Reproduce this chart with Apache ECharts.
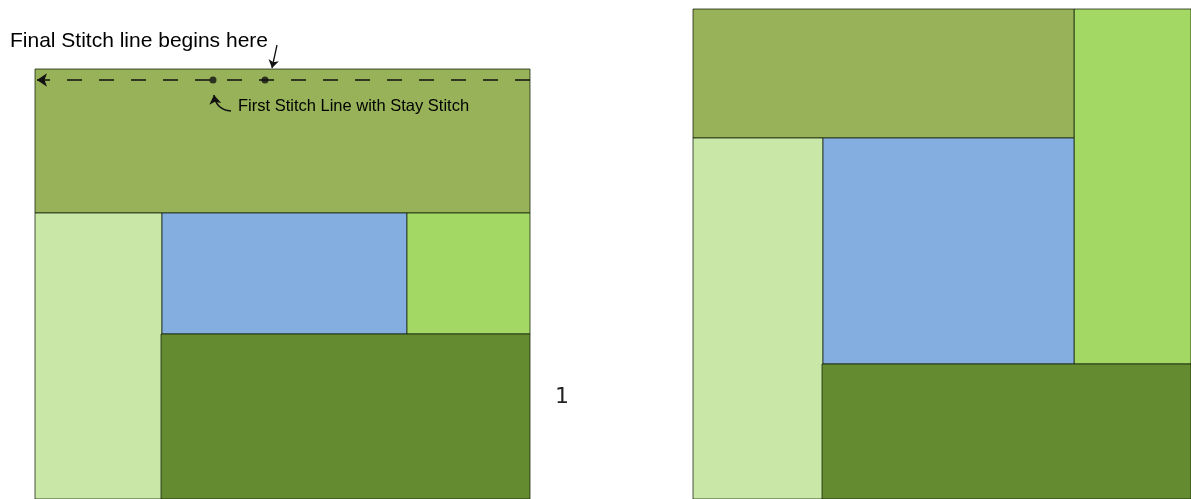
<!DOCTYPE html>
<html>
<head>
<meta charset="utf-8">
<script src="https://cdn.jsdelivr.net/npm/echarts@6/dist/echarts.min.js"></script>
<style>
  html, body { margin: 0; padding: 0; background: #fff; }
  #chart { width: 1191px; height: 499px; }
</style>
</head>
<body>
<div id="chart"></div>
<script>
// piece colours
const pieceColors = {
  top: "#97b259",
  left: "#c9e7a7",
  center: "#84ade0",
  right: "#a3d865",
  bottom: "#648b2f"
};

// block 1 pieces: [x0, y0, x1, y1, piece]
const blockOne = [
  [35, 69, 530, 213, "top"],
  [35, 213, 162, 499, "left"],
  [162, 213, 407, 334, "center"],
  [407, 213, 530, 334, "right"],
  [161, 334, 530, 499, "bottom"]
];

// block 2 pieces
const blockTwo = [
  [1074, 9, 1191, 364, "right"],
  [693, 9, 1074, 138, "top"],
  [693, 138, 823, 499, "left"],
  [823, 138, 1074, 364, "center"],
  [822, 364, 1191, 499, "bottom"]
];

// stitch line and stay stitch dots
const stitchLine = [[530, 80], [37, 80]];
const stitchDots = [[213, 80], [265, 80]];

// pointers
const pointerFinal = [[277, 45], [272, 68]];
const pointerFirst = [[231, 111], [214, 95]];

// labels: [x, y, text]
const labelFinal = [[10, 41, "Final Stitch line begins here"]];
const labelFirst = [[238, 106, "First Stitch Line with Stay Stitch"]];
const blockNumber = [[562, 397, "1"]];

var myChart = echarts.init(document.getElementById("chart"));

function renderPiece(params, api) {
  var p0 = api.coord([api.value(0), api.value(1)]);
  var p1 = api.coord([api.value(2), api.value(3)]);
  return {
    type: "rect",
    shape: { x: p0[0], y: p0[1], width: p1[0] - p0[0], height: p1[1] - p0[1] },
    style: {
      fill: pieceColors[api.value(4)],
      stroke: "rgba(20,30,10,0.75)",
      lineWidth: 1
    }
  };
}

function textSeries(data, size, family, pos, color) {
  return {
    type: "scatter",
    symbolSize: 0,
    data: data,
    label: {
      show: true,
      position: pos,
      distance: 0,
      formatter: function (p) { return p.value[2]; },
      fontFamily: family,
      fontSize: size,
      color: color,
      opacity: 1
    },
    silent: true
  };
}

let option = {
  animation: false,
  grid: { left: 0, right: 0, top: 0, bottom: 0 },
  xAxis: { type: "value", min: 0, max: 1191, show: false },
  yAxis: { type: "value", min: 0, max: 499, inverse: true, show: false },
  series: [
    {
      type: "custom",
      renderItem: renderPiece,
      dimensions: ["x0", "y0", "x1", "y1", { name: "piece", type: "ordinal" }],
      data: blockOne,
      silent: true
    },
    {
      type: "custom",
      renderItem: renderPiece,
      dimensions: ["x0", "y0", "x1", "y1", { name: "piece", type: "ordinal" }],
      data: blockTwo,
      silent: true
    },
    {
      type: "lines",
      coordinateSystem: "cartesian2d",
      symbol: ["none", "arrow"],
      symbolSize: 10,
      lineStyle: { color: "#111", width: 1.6, type: [15, 17], opacity: 1 },
      data: [{ coords: stitchLine }],
      silent: true
    },
    {
      type: "lines",
      coordinateSystem: "cartesian2d",
      symbol: ["none", "arrow"],
      symbolSize: 8,
      lineStyle: { color: "#111", width: 1.3, opacity: 1 },
      data: [{ coords: pointerFinal }],
      silent: true
    },
    {
      type: "lines",
      coordinateSystem: "cartesian2d",
      symbol: ["none", "arrow"],
      symbolSize: 9,
      lineStyle: { color: "#111", width: 1.6, opacity: 1, curveness: 0.4 },
      data: [{ coords: pointerFirst }],
      silent: true
    },
    {
      type: "scatter",
      symbol: "circle",
      symbolSize: 7,
      itemStyle: { color: "#111" },
      data: stitchDots,
      silent: true
    },
    textSeries(labelFinal, 21, "Liberation Sans", "right", "#000"),
    textSeries(labelFirst, 16.5, "Liberation Sans", "right", "#000"),
    textSeries(blockNumber, 22, "DejaVu Sans", "inside", "#222")
  ]
};

myChart.setOption(option);
window.addEventListener("resize", function() {
  myChart.resize();
});
</script>
</body>
</html>
